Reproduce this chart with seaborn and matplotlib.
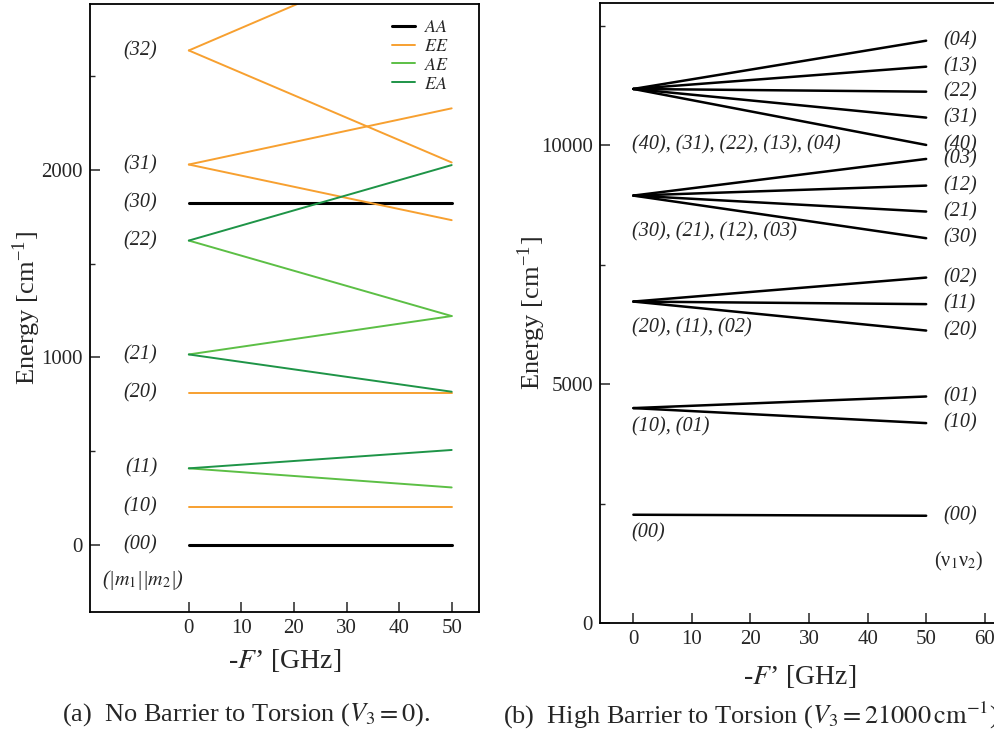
import numpy as np
import pandas as pd
import matplotlib
matplotlib.use("Agg")
import matplotlib.pyplot as plt
from matplotlib.lines import Line2D
from matplotlib.ticker import MultipleLocator
import seaborn as sns

# ---------------- data: (a) free internal rotors, V3 = 0 ----------------
F_ends = [0, 50]                      # -F' [GHz]
a_levels = ["(00)", "(10)", "(11)", "(11)", "(20)", "(21)", "(21)",
            "(22)", "(22)", "(30)", "(31)", "(31)", "(32)", "(32)"]
a_sym = ["AA", "EE", "EA", "AE", "EE", "AE", "EA",
         "EA", "AE", "AA", "EE", "EE", "EE", "EE"]
a_E0 = [0, 203, 408, 408, 812, 1016, 1016,
        1624, 1624, 1827, 2030, 2030, 2639, 2639]
a_E50 = [0, 203, 506, 306, 812, 1221, 817,
         2027, 1221, 1827, 2330, 1733, 3240, 2041]
a_label_names = ["(00)", "(10)", "(11)", "(20)", "(21)", "(22)", "(30)", "(31)", "(32)"]
a_label_E = [0, 203, 408, 812, 1016, 1624, 1827, 2030, 2639]

# ---------------- data: (b) high barrier, V3 = 21000 cm-1 ----------------
b_E0 = [2266, 4498, 4498, 6728, 6728, 6728,
        8946, 8946, 8946, 8946,
        11178, 11178, 11178, 11178, 11178]
b_E50 = [2245, 4741, 4184, 7230, 6674, 6121,
         9713, 9155, 8612, 8054,
         12188, 11644, 11121, 10578, 10006]
b_end_names = ["(00)", "(01)", "(10)", "(02)", "(11)", "(20)",
               "(03)", "(12)", "(21)", "(30)",
               "(04)", "(13)", "(22)", "(31)", "(40)"]
b_group_names = ["(00)", "(10), (01)", "(20), (11), (02)",
                 "(30), (21), (12), (03)", "(40), (31), (22), (13), (04)"]
b_group_E = [1883, 4113, 6171, 8180, 10000]

sym_order = ["AA", "EE", "AE", "EA"]
sym_colors = {"AA": "#000000", "EE": "#F7A030", "AE": "#5CBF45", "EA": "#1E9447"}
sym_widths = {"AA": 2.2, "EE": 1.4, "AE": 1.4, "EA": 1.4}

rows_a = []
for i, (s, e0, e1) in enumerate(zip(a_sym, a_E0, a_E50)):
    for f, e in zip(F_ends, [e0, e1]):
        rows_a.append({"F": f, "E": e, "branch": i, "sym": s})
df_a = pd.DataFrame(rows_a)

rows_b = []
for i, (e0, e1) in enumerate(zip(b_E0, b_E50)):
    for f, e in zip(F_ends, [e0, e1]):
        rows_b.append({"F": f, "E": e, "branch": i})
df_b = pd.DataFrame(rows_b)

# ---------------- style ----------------
sns.set_style("white")
plt.rcParams["font.family"] = ["Liberation Serif", "DejaVu Serif"]
plt.rcParams["mathtext.fontset"] = "stix"

W, H = 995, 736
fig = plt.figure(figsize=(W / 100, H / 100), dpi=100)

def px_axes(x0, y0, x1, y1):
    return fig.add_axes([x0 / W, 1 - y1 / H, (x1 - x0) / W, (y1 - y0) / H])

ax_a = px_axes(90, 4, 479, 612)
ax_b = px_axes(600, 3, 1014, 623)

tick_fs = 15
lab_fs = 14.5
ylabel_text = r"Energy [cm$^{\mathregular{-1}}$]"
xlabel_text = r"-$F$’ [GHz]"

for ax in (ax_a, ax_b):
    for sp in ax.spines.values():
        sp.set_linewidth(1.3)
        sp.set_color("black")
    ax.tick_params(which="major", direction="in", length=7, width=1.1,
                   labelsize=tick_fs, pad=5, top=False, right=False,
                   left=True, bottom=True)
    ax.tick_params(which="minor", direction="in", length=3.5, width=1.0,
                   top=False, right=False, left=True, bottom=False)
    ax.set_facecolor("white")

# ---------------- panel (a) ----------------
sns.lineplot(data=df_a, x="F", y="E", hue="sym", units="branch", estimator=None,
             size="sym", sizes=sym_widths, palette=sym_colors,
             hue_order=sym_order, legend=False, ax=ax_a)
ax_a.set_xlim(-18.8, 55.2)
ax_a.set_ylim(-359, 2887)
ax_a.set_xticks([0, 10, 20, 30, 40, 50])
ax_a.yaxis.set_major_locator(MultipleLocator(1000))
ax_a.yaxis.set_minor_locator(MultipleLocator(500))
ax_a.set_xlabel(xlabel_text, fontsize=20)
ax_a.xaxis.set_label_coords(0.5, -(647 - 612) / 608)
ax_a.set_ylabel(ylabel_text, fontsize=19)
ax_a.yaxis.set_label_coords((43 - 90) / 389, 0.5)

for name, e in zip(a_label_names, a_label_E):
    ax_a.text(-6.0, e, name, ha="right", va="center", style="italic", fontsize=lab_fs)
ax_a.text(-8.7, -188, r"(|$m_1$||$m_2$|)", ha="center", va="center",
          style="italic", fontsize=lab_fs)

handles = [Line2D([], [], color=sym_colors[s], lw=sym_widths[s]) for s in sym_order]
ax_a.legend(handles, ["$AA$", "$EE$", "$AE$", "$EA$"], loc="upper left",
            bbox_to_anchor=(0.776, 0.975), frameon=False, fontsize=13,
            handlelength=1.3, handletextpad=0.5, labelspacing=0.1,
            borderpad=0, borderaxespad=0)

# ---------------- panel (b) ----------------
sns.lineplot(data=df_b, x="F", y="E", units="branch", estimator=None,
             color="black", linewidth=1.8, legend=False, ax=ax_b)
ax_b.set_xlim(-5.7, 65)
ax_b.set_ylim(0, 12977)
ax_b.set_xticks([0, 10, 20, 30, 40, 50, 60])
ax_b.yaxis.set_major_locator(MultipleLocator(5000))
ax_b.yaxis.set_minor_locator(MultipleLocator(2500))
ax_b.set_xlabel(xlabel_text, fontsize=20)
ax_b.xaxis.set_label_coords((800 - 600) / (1014 - 600), -(663 - 623) / 620)
ax_b.set_ylabel(ylabel_text, fontsize=19)
ax_b.yaxis.set_label_coords((548 - 600) / (1014 - 600), 0.5)

for name, e in zip(b_group_names, b_group_E):
    ax_b.text(-0.3, e, name, ha="left", va="center", style="italic", fontsize=lab_fs)
for name, e in zip(b_end_names, b_E50):
    ax_b.text(52.9, e, name, ha="left", va="center", style="italic", fontsize=lab_fs)
ax_b.text(51.3, 1289, "(ν$_1$ν$_2$)", ha="left", va="center", fontsize=lab_fs)

# ---------------- captions ----------------
fig.text(62 / W, 1 - 715 / H, r"(a)  No Barrier to Torsion ($V_3 = 0$).",
         ha="left", va="center", fontsize=19)
fig.text(503 / W, 1 - 715 / H,
         r"(b)  High Barrier to Torsion ($V_3 = 21000\,\mathrm{cm}^{-1}$).",
         ha="left", va="center", fontsize=19)

fig.savefig("out.png", dpi=100, facecolor="white")
